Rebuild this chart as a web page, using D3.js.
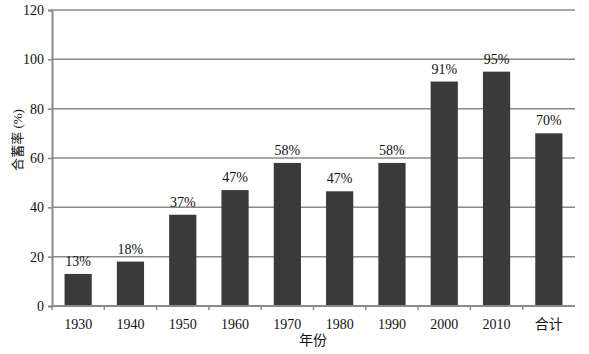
<!DOCTYPE html>
<html>
<head>
<meta charset="utf-8">
<script src="https://cdn.jsdelivr.net/npm/d3@7"></script>
<style>
  body { margin: 0; background: #fff; }
  text { font-family: "Liberation Serif", "Noto Sans CJK SC", serif; fill: #111; }
</style>
</head>
<body>
<div id="chart"></div>
<script>
const categories = ["1930", "1940", "1950", "1960", "1970", "1980", "1990", "2000", "2010", "合计"];
const values = [13, 18, 37, 47, 58, 46.5, 58, 91, 95, 70];
const valueLabels = ["13%", "18%", "37%", "47%", "58%", "47%", "58%", "91%", "95%", "70%"];
const yTicks = [0, 20, 40, 60, 80, 100, 120];

const width = 589, height = 354;
const marginLeft = 52, marginRight = 14, marginTop = 10, marginBottom = 48;
const serif = "'Liberation Serif', 'Noto Sans CJK SC', serif";

const svg = d3.select("#chart").append("svg")
  .attr("width", width)
  .attr("height", height);

const x = d3.scaleBand()
  .domain(categories)
  .range([marginLeft, width - marginRight])
  .paddingInner(0.48)
  .paddingOuter(0.24);

const y = d3.scaleLinear()
  .domain([0, 120])
  .range([height - marginBottom, marginTop]);

// gridlines
svg.append("g")
  .selectAll("line")
  .data(yTicks.filter(d => d > 0))
  .join("line")
  .attr("x1", marginLeft)
  .attr("x2", width - marginRight)
  .attr("y1", d => y(d))
  .attr("y2", d => y(d))
  .attr("stroke", "#8a8a8a")
  .attr("stroke-width", 1.5);

// bars
svg.append("g")
  .selectAll("rect")
  .data(values)
  .join("rect")
  .attr("x", (d, i) => x(categories[i]))
  .attr("y", d => y(d))
  .attr("width", x.bandwidth())
  .attr("height", d => y(0) - y(d))
  .attr("fill", "#3a3a3a");

// value labels
svg.append("g")
  .selectAll("text")
  .data(values)
  .join("text")
  .attr("x", (d, i) => x(categories[i]) + x.bandwidth() / 2)
  .attr("y", d => y(d) - 8)
  .attr("text-anchor", "middle")
  .attr("font-size", 14)
  .text((d, i) => valueLabels[i]);

// y axis
const yAxis = d3.axisLeft(y).tickValues(yTicks).tickSize(4).tickPadding(4);
const gy = svg.append("g")
  .attr("transform", `translate(${marginLeft},0)`)
  .call(yAxis)
  .attr("font-family", serif)
  .attr("font-size", 14);
gy.select(".domain").attr("stroke", "#8a8a8a").attr("stroke-width", 2);
gy.selectAll(".tick line").attr("stroke", "#8a8a8a").attr("stroke-width", 1.5);
gy.selectAll(".tick text").style("font-family", serif).attr("fill", "#111");

// x axis
const gx = svg.append("g")
  .attr("transform", `translate(0,${y(0)})`);
gx.append("line")
  .attr("x1", marginLeft).attr("x2", width - marginRight)
  .attr("stroke", "#8a8a8a").attr("stroke-width", 2);
const step = x.step();
gx.selectAll(".sep")
  .data(categories)
  .join("line")
  .attr("class", "sep")
  .attr("x1", d => x(d) - x.paddingInner() * step / 2)
  .attr("x2", d => x(d) - x.paddingInner() * step / 2)
  .attr("y1", 0).attr("y2", 4)
  .attr("stroke", "#8a8a8a").attr("stroke-width", 1.5);
gx.selectAll(".lbl")
  .data(categories)
  .join("text")
  .attr("class", "lbl")
  .attr("x", d => x(d) + x.bandwidth() / 2)
  .attr("y", 23)
  .attr("text-anchor", "middle")
  .attr("font-size", 14)
  .text(d => d);

// axis titles
svg.append("text")
  .attr("x", 313)
  .attr("y", 345)
  .attr("text-anchor", "middle")
  .attr("font-size", 14)
  .text("年份");

svg.append("text")
  .attr("transform", "translate(22,140) rotate(-90)")
  .attr("text-anchor", "middle")
  .attr("font-size", 13)
  .text("合蓄率 (%)");
</script>
</body>
</html>
